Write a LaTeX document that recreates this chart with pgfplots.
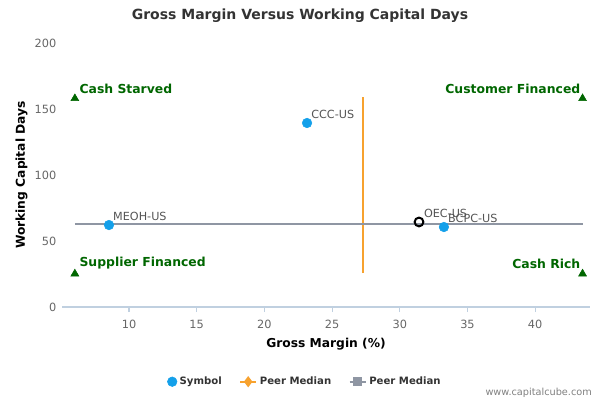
\documentclass[border=0pt]{standalone}
\usepackage{pgfplots}
\pgfplotsset{compat=1.18}
\usepackage{fontspec}
\setmainfont{DejaVu Sans}
\definecolor{ptblue}{HTML}{14A0EA}
\definecolor{medorange}{HTML}{F7A22F}
\definecolor{medgray}{HTML}{8F96A3}
\definecolor{qgreen}{HTML}{006600}
\definecolor{axline}{HTML}{C0D0E0}
\definecolor{ticktext}{HTML}{666666}
\definecolor{ptlabel}{HTML}{555555}
\begin{document}
\begin{tikzpicture}
\useasboundingbox (0,0) rectangle (450pt,300pt);
\node[font=\bfseries\fontsize{10.5pt}{12pt}\selectfont, text=black!80] at (225pt,288pt) {Gross Margin Versus Working Capital Days};
\node[font=\fontsize{7.3pt}{8pt}\selectfont, text=gray] at (404pt,5.25pt) {www.capitalcube.com};
\begin{axis}[
  at={(46.5pt,69.75pt)}, anchor=south west,
  scale only axis, width=396pt, height=198pt,
  xmin=5.05, xmax=44.05, ymin=0, ymax=200,
  axis lines*=left,
  x axis line style={draw=axline, line width=0.8pt},
  y axis line style={draw=none},
  xtick={10,15,...,40}, ytick={0,50,...,200},
  xtick style={draw=axline, line width=0.8pt},
  ytick style={draw=none},
  tick align=outside, major tick length=3.75pt,
  ticklabel style={font=\fontsize{8.5pt}{9pt}\selectfont, text=ticktext},
  /pgf/number format/assume math mode=true,
  xticklabel style={yshift=-2.5pt},
  yticklabel style={xshift=3pt},
  xlabel={Gross Margin (\%)}, ylabel={Working Capital Days},
  label style={font=\bfseries\fontsize{9.2pt}{10pt}\selectfont},
  xlabel style={yshift=0pt},
  ylabel style={yshift=-1.5pt},
  clip=false,
  legend columns=3,
  legend image code/.code={\draw[mark repeat=2,mark phase=2,#1] plot coordinates {(0pt,0pt) (6pt,0pt) (12pt,0pt)};},
  legend style={at={(0.461,-0.283)}, anchor=center, draw=none, fill=none,
    font=\bfseries\fontsize{7.6pt}{9pt}\selectfont, text=black!80,
    /tikz/every even column/.append style={column sep=11pt}},
  legend cell align=left,
]
% peer medians
\addplot[medorange, line width=1.5pt, forget plot] coordinates {(27.28,25.7) (27.28,159)};
\addplot[medgray, line width=1.5pt, forget plot] coordinates {(6.0,62.9) (43.5,62.9)};
% quadrant markers
\addplot[only marks, mark=triangle*, mark size=3.4pt, color=qgreen, forget plot] coordinates {(6.0,158) (6.0,25.2) (43.5,158) (43.5,25.2)};
\addplot[only marks, mark=none, forget plot,
  nodes near coords, point meta=explicit symbolic,
  nodes near coords style={anchor=south west, inner sep=0pt, xshift=3.3pt, yshift=3.6pt, text=qgreen, font=\bfseries\fontsize{9.3pt}{10pt}\selectfont}]
  coordinates {(6.0,158) [Cash Starved] (6.0,25.2) [Supplier Financed]};
\addplot[only marks, mark=none, forget plot,
  nodes near coords, point meta=explicit symbolic,
  nodes near coords style={anchor=south east, inner sep=0pt, xshift=-1.5pt, yshift=3.6pt, text=qgreen, font=\bfseries\fontsize{9.3pt}{10pt}\selectfont}]
  coordinates {(43.5,158) [Customer Financed] (43.5,25.2) [Cash Rich]};
% symbols
\addplot[only marks, mark=*, mark size=3.6pt, color=ptblue,
  nodes near coords, point meta=explicit symbolic,
  nodes near coords style={anchor=west, inner sep=0pt, xshift=3pt, yshift=6.5pt, text=ptlabel, font=\fontsize{8.4pt}{9pt}\selectfont}]
  coordinates {(8.52,62.1) [MEOH-US] (23.15,139.4) [CCC-US] (33.26,60.6) [BCPC-US]};
\addlegendentry{Symbol}
\addplot[only marks, mark=o, mark size=3.3pt, mark options={line width=1.5pt}, color=black, forget plot,
  nodes near coords, point meta=explicit symbolic,
  nodes near coords style={anchor=west, inner sep=0pt, xshift=3pt, yshift=6.5pt, text=ptlabel, font=\fontsize{8.4pt}{9pt}\selectfont}]
  coordinates {(31.42,64.4) [OEC-US]};
\addlegendimage{medorange, line width=1.5pt, mark=diamond*, mark size=3pt}
\addlegendentry{Peer Median}
\addlegendimage{medgray, line width=1.5pt, mark=square*, mark size=2.5pt}
\addlegendentry{Peer Median}
\end{axis}
\end{tikzpicture}
\end{document}
